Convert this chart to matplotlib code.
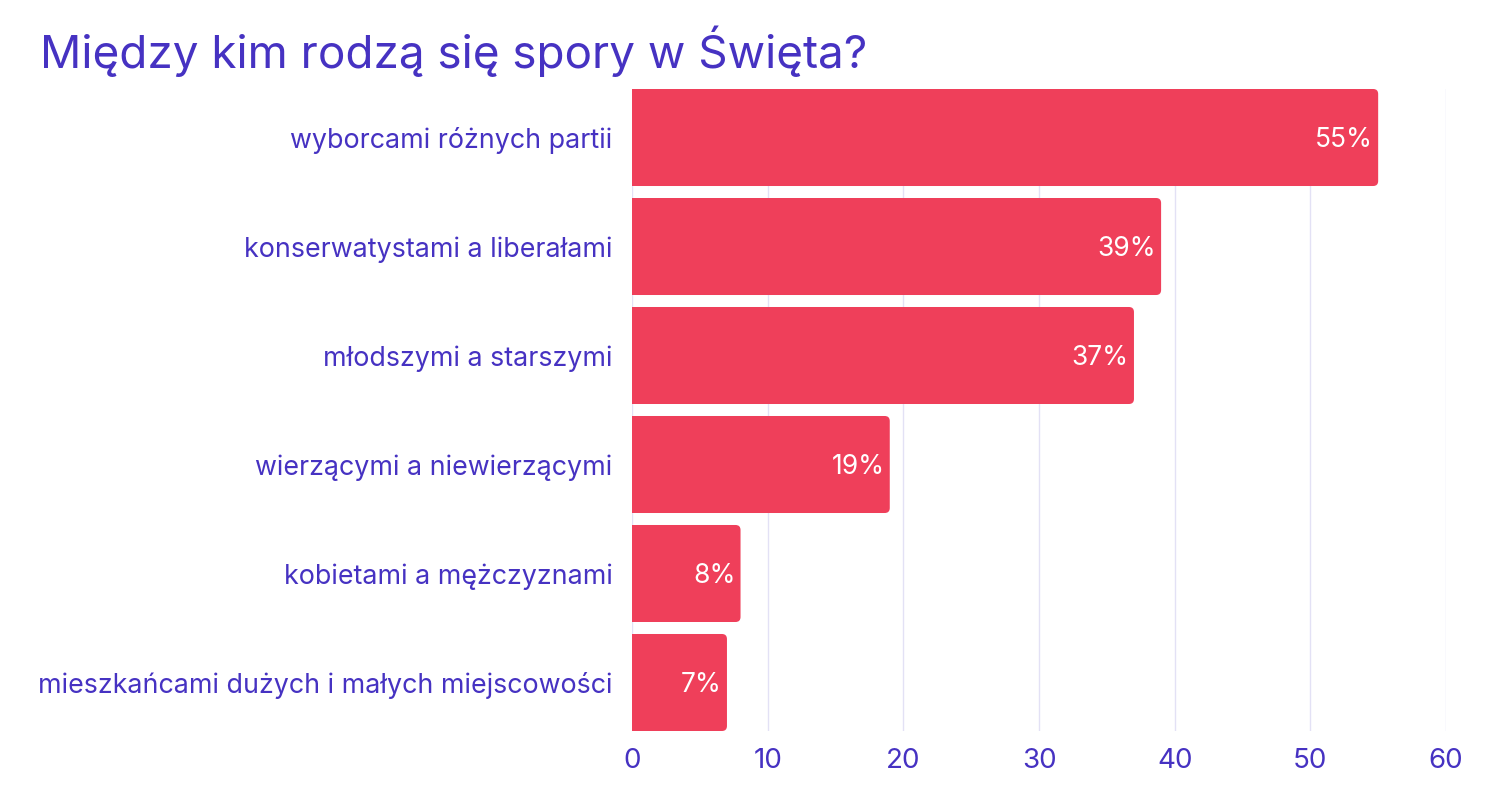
import matplotlib
matplotlib.use('Agg')
import matplotlib.pyplot as plt
from matplotlib.patches import FancyBboxPatch, Rectangle

# data
categories = [
    'wyborcami różnych partii',
    'konserwatystami a liberałami',
    'młodszymi a starszymi',
    'wierzącymi a niewierzącymi',
    'kobietami a mężczyznami',
    'mieszkańcami dużych i małych miejscowości',
]
values = [55, 39, 37, 19, 8, 7]
x_ticks = [0, 10, 20, 30, 40, 50, 60]

BAR_COLOR = '#EF3F5A'
TEXT_COLOR = '#4632C2'
GRID_COLOR = '#E3E1F5'

plt.rcParams['font.family'] = ['Inter', 'DejaVu Sans']

fig = plt.figure(figsize=(14.88, 7.93), dpi=100)
ax = fig.add_axes([632 / 1488, 1 - 731 / 793, (1446 - 632) / 1488, (731 - 89) / 793])

bar_h = 0.89
y = list(range(len(categories)))
bars = ax.barh(y, values, height=bar_h, color='none')

ax.set_xlim(0, 60)
ax.set_ylim(len(categories) - 1 + bar_h / 2, -bar_h / 2)
ax.set_xticks(x_ticks)
ax.set_yticks(y)
ax.set_yticklabels(categories)
ax.tick_params(axis='y', length=0, pad=14, labelsize=19.3, labelcolor=TEXT_COLOR)
ax.tick_params(axis='x', length=0, pad=12, labelsize=20, labelcolor=TEXT_COLOR)
ax.grid(axis='x', color=GRID_COLOR, linewidth=1)
ax.set_axisbelow(True)
for s in ax.spines.values():
    s.set_visible(False)

# rounded right end of bars, drawn in pixel coordinates
fig.canvas.draw()
radius = 5
for b in bars:
    (x0, y0), (x1, y1) = ax.transData.transform([(b.get_x(), b.get_y()),
                                                   (b.get_x() + b.get_width(), b.get_y() + b.get_height())])
    xl, xr = min(x0, x1), max(x0, x1)
    yb, yt = min(y0, y1), max(y0, y1)
    rnd = FancyBboxPatch((xl, yb), xr - xl, yt - yb,
                         boxstyle='round,pad=0,rounding_size=%d' % radius,
                         transform=None, facecolor=BAR_COLOR, edgecolor='none', zorder=2)
    sq = Rectangle((xl, yb), (xr - xl) / 2, yt - yb, transform=None,
                   facecolor=BAR_COLOR, edgecolor='none', zorder=2)
    ax.add_patch(rnd)
    ax.add_patch(sq)

for yi, v in zip(y, values):
    ax.annotate('%d%%' % v, (v, yi), xytext=(-3.6, -2), textcoords='offset points',
                ha='right', va='center', color='white', fontsize=19, zorder=5)

fig.text(40 / 1488, 1 - 68 / 793, 'Między kim rodzą się spory w Święta?',
         ha='left', va='baseline', fontsize=33, color=TEXT_COLOR)

fig.savefig('out.png', dpi=100, facecolor='white')
